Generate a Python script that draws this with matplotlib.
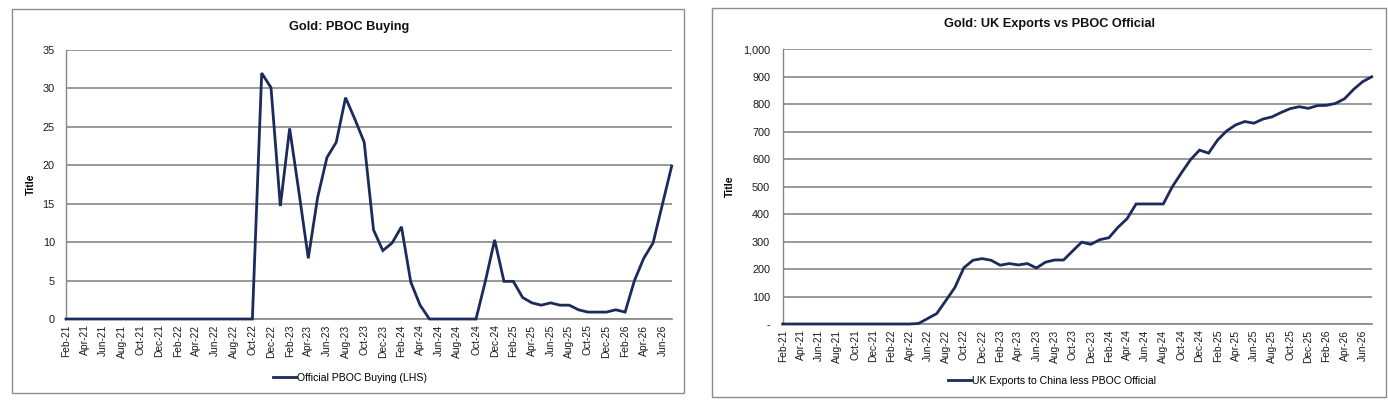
import matplotlib
matplotlib.use("Agg")
import matplotlib.pyplot as plt
from matplotlib.patches import Rectangle
from matplotlib.ticker import FuncFormatter, FixedLocator

plt.rcParams['font.family'] = ['Liberation Sans Narrow', 'Liberation Sans', 'DejaVu Sans']

months = ["Jan", "Feb", "Mar", "Apr", "May", "Jun", "Jul", "Aug", "Sep", "Oct", "Nov", "Dec"]
dates = []
for yr in range(21, 27):
    for m in months:
        dates.append(f"{m}-{yr}")
dates = dates[1:dates.index("Jul-26") + 1]  # Feb-21 .. Jul-26

pboc_buying = [0] * 20 + [
    0, 32, 30.1, 14.7, 24.8, 16.5, 7.9, 15.8, 21.0, 23.0, 28.8, 26.0, 23.0,
    11.6, 8.9, 9.9, 12.0, 4.8, 1.8, 0,
    0, 0, 0, 0,
    0, 4.9, 10.3, 4.9, 4.9, 2.8, 2.1, 1.8, 2.1, 1.8, 1.8, 1.2, 0.9, 0.9, 0.9,
    1.2, 0.9, 5.0, 7.9, 9.9, 14.9, 19.9,
]

uk_less_pboc = [0] * 15 + [
    2, 20, 38, 85, 133, 205, 232, 238, 232, 214, 220, 215, 220, 204, 225, 233,
    233, 266, 298, 290, 307, 314, 352, 383, 437, 437, 437, 437, 500, 550, 598,
    633, 622, 670, 703, 725, 737, 731, 746, 754, 770, 784, 791, 785, 795, 796,
    803, 820, 854, 882, 900,
]

left_title = "Gold: PBOC Buying"
right_title = "Gold: UK Exports vs PBOC Official"
left_series = "Official PBOC Buying (LHS)"
right_series = "UK Exports to China less PBOC Official"
ylabel = "Title"

W, H = 1388, 401
fig = plt.figure(figsize=(W / 100, H / 100), dpi=100)

LINE = "#1c2a5c"
GRID = "#878787"
BORDER = "#8c8c8c"


def fx(px):
    return px / W


def fy(py):
    return 1 - py / H


def panel(x0, y0, x1, y1):
    fig.patches.append(Rectangle((fx(x0), fy(y1)), fx(x1) - fx(x0), fy(y0) - fy(y1),
                                 transform=fig.transFigure, fill=False,
                                 edgecolor=BORDER, linewidth=1.0, zorder=0))


panel(12.3, 9.3, 684.3, 393.3)
panel(711.7, 8, 1386, 397.3)


def setup(ax, values, yticks, ymax, fmt, label, title, title_xy, leg_xy, ypad, lpad):
    x = list(range(len(values)))
    ax.plot(x, values, color=LINE, linewidth=2.0, label=label, zorder=3,
            solid_joinstyle='miter', clip_on=False)
    ax.set_xlim(0, len(values) - 1)
    ax.set_ylim(0, ymax)
    ax.yaxis.set_major_locator(FixedLocator(yticks))
    ax.yaxis.set_major_formatter(FuncFormatter(fmt))
    ax.grid(axis='y', color=GRID, linewidth=1.2, zorder=1)
    ax.set_axisbelow(True)
    for s in ['top', 'right']:
        ax.spines[s].set_visible(False)
    ax.spines['left'].set_color(GRID)
    ax.spines['bottom'].set_color(GRID)
    ax.spines['left'].set_linewidth(1.0)
    ax.spines['bottom'].set_linewidth(1.2)
    tick_idx = list(range(0, len(values), 2))
    ax.set_xticks(tick_idx)
    ax.set_xticklabels([dates[i] for i in tick_idx], rotation=90, fontsize=7.4,
                       color="#1a1a1a")
    ax.tick_params(axis='x', length=0, pad=4)
    ax.tick_params(axis='y', length=0, pad=ypad, labelsize=7.8, labelcolor="#1a1a1a")
    ax.set_ylabel(ylabel, fontsize=7.5, fontweight='bold', labelpad=lpad)
    fig.text(fx(title_xy[0]), fy(title_xy[1]), title, ha='center', va='center',
             fontsize=9.2, fontweight='bold', color="#111111")
    ax.legend(loc='center', bbox_to_anchor=(fx(leg_xy[0]), fy(leg_xy[1])),
              bbox_transform=fig.transFigure, frameon=False, fontsize=7.6,
              handlelength=2.2, handletextpad=0.1)


axL = fig.add_axes([fx(66), fy(319), fx(671.7) - fx(66), fy(50) - fy(319)])
setup(axL, pboc_buying, list(range(0, 36, 5)), 35, lambda v, p: f"{int(v)}",
      left_series, left_title, (349, 27), (350, 378), 8, 5)

axR = fig.add_axes([fx(782.7), fy(324), fx(1371.7) - fx(782.7), fy(49.3) - fy(324)])
setup(axR, uk_less_pboc, list(range(0, 1001, 100)), 1000,
      lambda v, p: "-" if v == 0 else f"{int(v):,}",
      right_series, right_title, (1049, 24), (1052, 381), 9, 6)

fig.savefig("out.png", dpi=100)
